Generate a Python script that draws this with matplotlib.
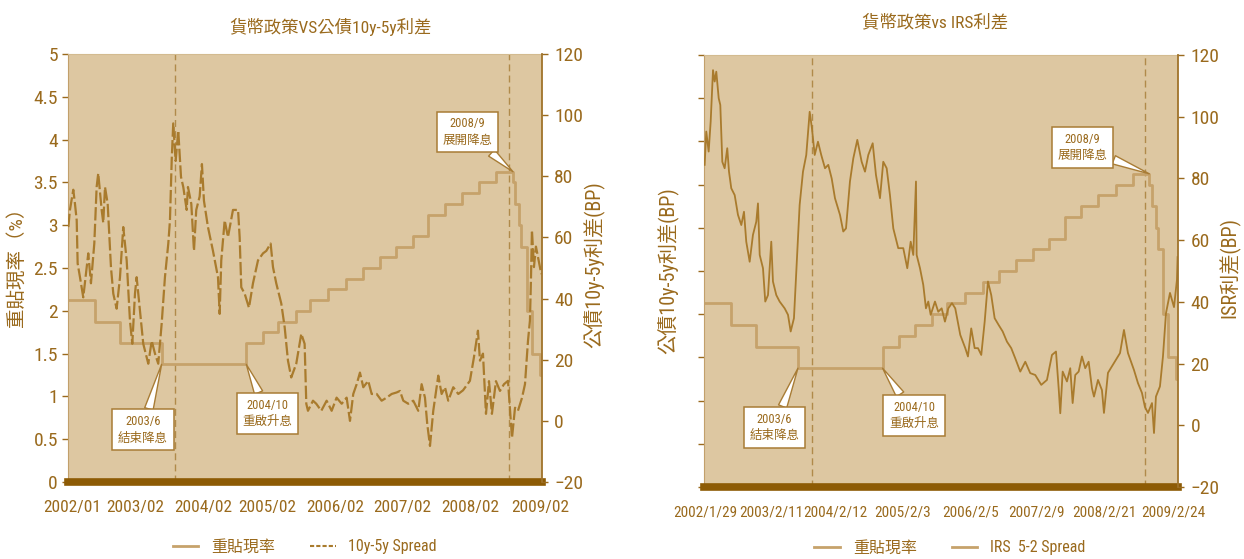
import matplotlib.pyplot as plt
import numpy as np
import pandas as pd
from matplotlib import font_manager
from matplotlib.lines import Line2D

# ---- data ----
rate_dates = ["2002-01-29", "2002-06-28", "2002-11-12", "2003-06-27", "2004-10-01",
              "2004-12-31", "2005-03-25", "2005-07-01", "2005-09-16", "2005-12-23",
              "2006-03-31", "2006-06-30", "2006-09-29", "2006-12-29", "2007-03-30",
              "2007-06-22", "2007-09-21", "2007-12-21", "2008-03-27", "2008-06-27",
              "2008-09-26", "2008-10-09", "2008-10-30", "2008-11-10", "2008-12-12",
              "2009-01-08", "2009-02-19", "2009-02-27"]
rate_values = [2.125, 1.875, 1.625, 1.375, 1.625, 1.75, 1.875, 2.0, 2.125, 2.25,
               2.375, 2.5, 2.625, 2.75, 2.875, 3.125, 3.25, 3.375, 3.5, 3.625,
               3.5, 3.25, 3.0, 2.75, 2.0, 1.5, 1.25, 1.25]

# 公債 10y-5y spread (BP), x in decimal years
bond_t = [2002.09, 2002.114, 2002.164, 2002.189, 2002.215, 2002.229, 2002.264, 2002.313,
          2002.364, 2002.388, 2002.428, 2002.478, 2002.513, 2002.537, 2002.588, 2002.612,
          2002.638, 2002.678, 2002.727, 2002.762, 2002.812, 2002.862, 2002.911, 2002.962,
          2003.011, 2003.046, 2003.086, 2003.111, 2003.161, 2003.21, 2003.285, 2003.336,
          2003.385, 2003.434, 2003.485, 2003.534, 2003.584, 2003.609, 2003.635, 2003.658,
          2003.694, 2003.733, 2003.774, 2003.808, 2003.859, 2003.878, 2003.928, 2003.968,
          2004.002, 2004.053, 2004.087, 2004.117, 2004.177, 2004.252, 2004.327, 2004.352,
          2004.376, 2004.427, 2004.476, 2004.551, 2004.627, 2004.651, 2004.675, 2004.726,
          2004.79, 2004.85, 2004.925, 2005.0, 2005.049, 2005.114, 2005.149, 2005.198,
          2005.273, 2005.324, 2005.373, 2005.422, 2005.497, 2005.572, 2005.622, 2005.647,
          2005.672, 2005.747, 2005.796, 2005.871, 2005.951, 2006.026, 2006.1, 2006.176,
          2006.25, 2006.3, 2006.349, 2006.4, 2006.449, 2006.499, 2006.573, 2006.624,
          2006.699, 2006.773, 2006.848, 2006.923, 2006.998, 2007.047, 2007.097, 2007.171,
          2007.246, 2007.321, 2007.371, 2007.421, 2007.455, 2007.496, 2007.545, 2007.596,
          2007.62, 2007.67, 2007.72, 2007.769, 2007.844, 2007.919, 2007.99, 2008.093,
          2008.153, 2008.213, 2008.243, 2008.288, 2008.333, 2008.378, 2008.422, 2008.482,
          2008.542, 2008.602, 2008.662, 2008.722, 2008.767, 2008.811, 2008.871, 2008.916,
          2008.961, 2008.99, 2009.005, 2009.02, 2009.05, 2009.08, 2009.11, 2009.16]
bond_bp = [63.4, 69, 75.6, 71, 65.6, 51.5, 47, 40.4,
           50.3, 54.8, 45, 58, 76.5, 81, 69, 64.8,
           76.5, 71, 50.3, 41.6, 36.7, 47, 63.4, 52.5,
           32.8, 25.2, 41.6, 47, 36, 25.2, 18.7, 26.2,
           22, 18.7, 31.8, 47, 58, 65.6, 85.2, 97.3,
           85, 95, 79.8, 76.5, 69, 76.5, 71, 55.6,
           69, 73.4, 84, 72, 63.4, 55.6, 47, 35,
           52.5, 65.6, 60.1, 69, 69, 60, 43.7, 41.6,
           37, 45, 52.5, 54.8, 55.6, 58, 50.3, 45,
           38.4, 30.6, 19.7, 14.2, 18.7, 28.5, 25.2, 5.6,
           3.3, 6.6, 5.6, 3.3, 6.6, 3.3, 7.6, 5.6,
           7.6, 0, 8.8, 12, 15.8, 11, 13.1, 8.8,
           8.8, 6.6, 7.6, 8.8, 9.3, 9.8, 6.6, 5.6,
           6.6, 3.3, 12, 7.6, -1, -8.2, 3.3, 11,
           14.8, 8.8, 11, 6.6, 11, 8.8, 10, 13.1,
           20.8, 29.5, 19.7, 22, 2.3, 13, 2.3, 13,
           9.8, 12, 13.1, -5.6, 4.3, 3.3, 7.5, 12,
           26.2, 32.8, 45.9, 62.4, 50.3, 57, 53.6, 48]

# IRS 5-2 spread (BP)
irs_t = [2002.09, 2002.114, 2002.15, 2002.18, 2002.215, 2002.24, 2002.264, 2002.3,
         2002.324, 2002.354, 2002.389, 2002.428, 2002.454, 2002.488, 2002.539, 2002.588,
         2002.638, 2002.678, 2002.712, 2002.763, 2002.812, 2002.862, 2002.887, 2002.913,
         2002.962, 2002.996, 2003.037, 2003.086, 2003.111, 2003.161, 2003.211, 2003.286,
         2003.336, 2003.376, 2003.425, 2003.46, 2003.51, 2003.56, 2003.609, 2003.66,
         2003.694, 2003.735, 2003.784, 2003.833, 2003.889, 2003.938, 2003.989, 2004.038,
         2004.113, 2004.162, 2004.203, 2004.262, 2004.312, 2004.372, 2004.437, 2004.487,
         2004.536, 2004.602, 2004.651, 2004.711, 2004.76, 2004.811, 2004.86, 2004.91,
         2004.984, 2005.059, 2005.119, 2005.17, 2005.209, 2005.249, 2005.259, 2005.309,
         2005.358, 2005.398, 2005.433, 2005.469, 2005.533, 2005.582, 2005.633, 2005.682,
         2005.732, 2005.787, 2005.836, 2005.911, 2005.986, 2006.026, 2006.075, 2006.126,
         2006.176, 2006.225, 2006.276, 2006.325, 2006.374, 2006.425, 2006.485, 2006.545,
         2006.609, 2006.673, 2006.733, 2006.808, 2006.883, 2006.957, 2007.032, 2007.122,
         2007.207, 2007.282, 2007.342, 2007.382, 2007.406, 2007.442, 2007.506, 2007.555,
         2007.591, 2007.63, 2007.681, 2007.73, 2007.779, 2007.83, 2007.88, 2007.91,
         2007.97, 2008.029, 2008.059, 2008.119, 2008.209, 2008.299, 2008.358, 2008.418,
         2008.508, 2008.567, 2008.627, 2008.672, 2008.717, 2008.777, 2008.807, 2008.836,
         2008.896, 2008.941, 2008.986, 2009.046, 2009.106, 2009.15, 2009.16]
irs_bp = [84.4, 95.2, 88.7, 98.4, 115.1, 111.4, 114.6, 106,
          103.8, 85.4, 83.3, 89.8, 82.2, 76.8, 74.6, 68.2,
          64.9, 69.2, 59.5, 53, 61.7, 66, 71.9, 55.2,
          50.9, 40.1, 42.2, 59.5, 46.6, 42.2, 40.1, 37.9,
          35.8, 30.4, 34.7, 49.8, 71.4, 82.2, 87.6, 101.6,
          96.2, 87.6, 91.9, 87.6, 83.3, 84.4, 80, 73.6,
          68.2, 62.8, 63.8, 79, 86.5, 92.5, 85.4, 82.2,
          87.6, 91.4, 81.1, 73.6, 85.4, 83.3, 74.6, 63.8,
          57.4, 57.4, 50.9, 59.5, 55.2, 79, 55.2, 50.9,
          45.5, 37.9, 40.1, 35.8, 40.1, 36.8, 37.9, 33.6,
          37.9, 39.6, 37.9, 29.3, 25, 22.3, 31.4, 25,
          25, 22.8, 33.6, 46.6, 42.2, 34.7, 32.5, 30.4,
          27.1, 25, 21.7, 17.4, 20.6, 16.9, 16.3, 13.1,
          14.7, 22.8, 23.9, 12, 3.9, 17.4, 14.2, 18.5,
          7.2, 16.3, 17.4, 22.3, 18.5, 20.6, 12, 9.3,
          14.7, 11.4, 4, 17, 20.2, 23.4, 30.9, 23.4,
          17.9, 13.7, 10.5, 5.9, 4, 7.2, -2.5, 9.3,
          12.6, 22.3, 36.3, 42.9, 38.3, 47.1, 54.5]

left_tick_pos = [2002.146, 2003.088, 2004.104, 2005.06, 2006.077, 2007.078, 2008.095, 2009.142]
left_tick_labels = ["2002/01", "2003/02", "2004/02", "2005/02", "2006/02", "2007/02", "2008/02", "2009/02"]
right_tick_pos = [2002.105, 2003.087, 2004.038, 2005.053, 2006.065, 2007.047, 2008.06, 2009.10]
right_tick_labels = ["2002/1/29", "2003/2/11", "2004/2/12", "2005/2/3", "2006/2/5", "2007/2/9", "2008/2/21", "2009/2/24"]
event_lines = [2003.69, 2008.67]

# ---- fonts: prefer a condensed face for the numbers ----
num_font, num_stretch = "Liberation Sans", "normal"
for f in font_manager.fontManager.ttflist:
    if f.name in ("Liberation Sans Narrow", "Roboto Condensed", "Open Sans Condensed"):
        num_font, num_stretch = f.name, "normal"
        break
    if f.name == "DejaVu Sans" and f.stretch in ("condensed", "semi-condensed"):
        num_font, num_stretch = f.name, "condensed"
condensed = num_font != "Liberation Sans"
plt.rcParams["font.family"] = [num_font, "Noto Sans CJK TC", "DejaVu Sans"]
plt.rcParams["font.stretch"] = num_stretch

BG = "#ddc7a1"
LINE = "#a97b2d"
RATE = "#c6a26b"
TXT = "#9a6a1d"
BAND = "#8d5b05"

xs_left = 12.5 if condensed else 10.5
xs_right = 11 if condensed else 9.5
ys = 14 if condensed else 12

d = pd.to_datetime(rate_dates)
rate_t = (d.year + (d.dayofyear - 1) / 365.25).to_numpy()

X0, X1 = 2002.08, 2009.165

fig = plt.figure(figsize=(12.44, 5.59), dpi=100)
ax1 = fig.add_axes([0.0544, 0.1377, 0.381, 0.7657])
ax2 = fig.add_axes([0.5659, 0.1288, 0.381, 0.7728])


def setup(ax, ticks, labels, show_left, xsize):
    axr = ax.twinx()
    ax.set_facecolor(BG)
    ax.set_xlim(X0, X1)
    ax.set_ylim(0, 5)
    axr.set_ylim(-20, 120)
    ax.set_yticks(np.arange(0, 5.01, 0.5))
    ax.set_yticklabels(["%g" % v for v in np.arange(0, 5.01, 0.5)])
    axr.set_yticks(range(-20, 121, 20))
    ax.set_xticks(ticks)
    ax.set_xticklabels(labels)
    ax.tick_params(axis="x", length=0, pad=13, labelsize=xsize, colors=TXT)
    ax.tick_params(axis="y", direction="out", length=4, width=1, color=TXT,
                   labelsize=ys, labelcolor=TXT, pad=3, labelleft=show_left)
    axr.tick_params(axis="y", direction="out", length=4, width=1, color=TXT,
                    labelsize=ys, labelcolor=TXT, pad=5)
    ax.spines["right"].set_visible(False)
    ax.spines["left"].set_color("#c2a06b")
    ax.spines["top"].set_color("#d3bb90")
    ax.spines["bottom"].set_color(BAND)
    ax.spines["bottom"].set_linewidth(5.5)
    for s in ["left", "top", "bottom"]:
        axr.spines[s].set_visible(False)
    axr.spines["right"].set_color("#a0732a")
    axr.spines["right"].set_linewidth(1.3)
    for x in event_lines:
        ax.axvline(x, color="#b08a4a", lw=1, ls=(0, (5, 3)))
    ax.plot(rate_t, rate_values, drawstyle="steps-post", color=RATE, lw=2)
    return axr


ax1r = setup(ax1, left_tick_pos, left_tick_labels, True, xs_left)
ax2r = setup(ax2, right_tick_pos, right_tick_labels, False, xs_right)

ax1r.plot(bond_t, bond_bp, color=LINE, lw=1.6, ls=(0, (6, 1.5)))
ax2r.plot(irs_t, irs_bp, color=LINE, lw=1.3)


def callout(ax, axr, text, xy, xytext):
    axr.annotate(text, xy=xy, xycoords=ax.transData, xytext=xytext, textcoords=ax.transData,
                 ha="center", va="center", fontsize=9, color=TXT, linespacing=1.35,
                 bbox=dict(boxstyle="square,pad=0.45", fc="white", ec="#a87c35", lw=1.1),
                 arrowprops=dict(arrowstyle="wedge,tail_width=0.7", fc="white",
                                 ec="#a87c35", lw=1, shrinkA=0, shrinkB=0))


for ax, axr, pos in [(ax1, ax1r, [(2003.205, 0.61), (2005.07, 0.80), (2008.06, 4.09)]),
                     (ax2, ax2r, [(2003.13, 0.69), (2005.22, 0.83), (2007.74, 3.93)])]:
    callout(ax, axr, "2003/6\n結束降息", (rate_t[3], rate_values[3]), pos[0])
    callout(ax, axr, "2004/10\n重啟升息", (rate_t[4], rate_values[3]), pos[1])
    callout(ax, axr, "2008/9\n展開降息", (rate_t[20], rate_values[19]), pos[2])

# titles and axis labels
fig.text(0.266, 0.952, "貨幣政策VS公債10y-5y利差", ha="center", va="center", fontsize=12.5, color=TXT)
fig.text(0.7516, 0.961, "貨幣政策vs IRS利差", ha="center", va="center", fontsize=12.5, color=TXT)
fig.text(0.013, 0.53, "重貼現率（%）", rotation=90, ha="center", va="center", fontsize=14, color=TXT)
fig.text(0.4775, 0.526, "公債10y-5y利差(BP)", rotation=90, ha="center", va="center", fontsize=14.5, color=TXT)
fig.text(0.537, 0.515, "公債10y-5y利差(BP)", rotation=90, ha="center", va="center", fontsize=14.5, color=TXT)
fig.text(0.9887, 0.521, "ISR利差(BP)", rotation=90, ha="center", va="center", fontsize=14.5, color=TXT)

leg_kw = dict(loc="center", ncol=2, frameon=False, fontsize=11.5, handlelength=1.6,
              columnspacing=2.2, handletextpad=0.8, labelcolor=TXT)
h1 = [Line2D([], [], color=RATE, lw=2), Line2D([], [], color=LINE, lw=1.5, ls=(0, (2, 1)))]
fig.legend(h1, ["重貼現率", "10y-5y Spread"], bbox_to_anchor=(0.245, 0.0215), **leg_kw)
h2 = [Line2D([], [], color=RATE, lw=2), Line2D([], [], color=RATE, lw=2)]
fig.legend(h2, ["重貼現率", "IRS  5-2 Spread"], bbox_to_anchor=(0.7637, 0.0197), **leg_kw)

fig.savefig("out.png", dpi=100)
